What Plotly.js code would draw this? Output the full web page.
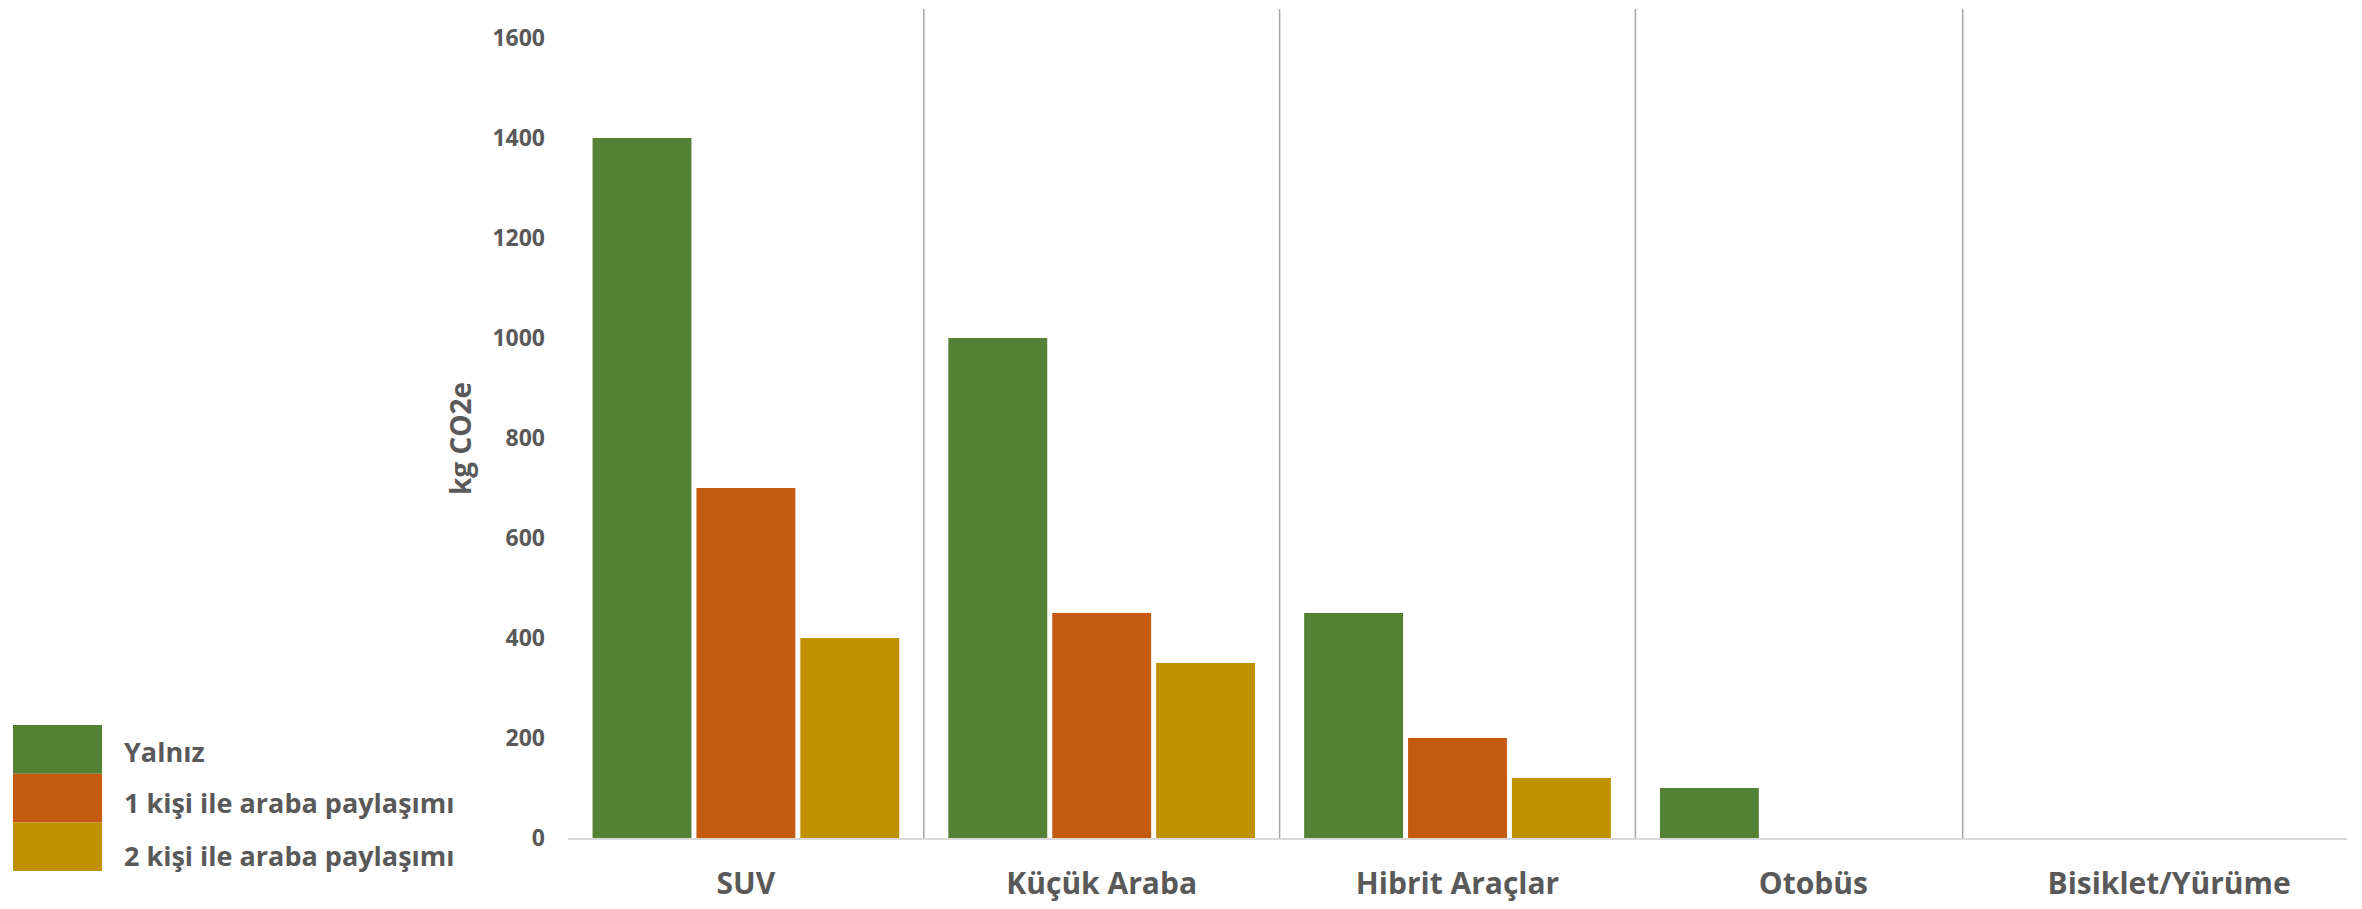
<!DOCTYPE html>
<html>
<head>
<meta charset="utf-8">
<script src="https://cdn.plot.ly/plotly-3.0.1.min.js"></script>
<style>
  html, body { margin: 0; padding: 0; background: #ffffff; }
  #chart { width: 2362px; height: 909px; }
</style>
</head>
<body>
<div id="chart"></div>
<script>
// Transport modes on the category axis
const categories = ['SUV', 'Küçük Araba', 'Hibrit Araçlar', 'Otobüs', 'Bisiklet/Yürüme'];

// Series names
const seriesNames = ['Yalnız', '1 kişi ile araba paylaşımı', '2 kişi ile araba paylaşımı'];

// Emissions per mode (kg CO2e)
const alone = [1400, 1000, 450, 100, 0];
const sharedWithOne = [700, 450, 200, 0, 0];
const sharedWithTwo = [400, 350, 120, 0, 0];

// Y-axis ticks
const yTickValues = [0, 200, 400, 600, 800, 1000, 1200, 1400, 1600];
const yTickLabels = ['0', '200', '400', '600', '800', '1000', '1200', '1400', '1600'];

const yTitle = 'kg CO2e';

const seriesValues = [alone, sharedWithOne, sharedWithTwo];
const seriesColors = ['#548235', '#c55a11', '#bf9000'];

const W = 2362, H = 909;
const margin = { l: 568, r: 15, t: 9, b: 71 };
const plotW = W - margin.l - margin.r;
const plotH = H - margin.t - margin.b;
// pixel -> paper helpers for the hand-built legend and axis title
const px = x => (x - margin.l) / plotW;
const py = y => (H - margin.b - y) / plotH;

const textColor = '#595959';
const font = 'Open Sans, sans-serif';

const traces = seriesValues.map((vals, i) => ({
  type: 'bar',
  name: seriesNames[i],
  x: categories,
  y: vals,
  marker: { color: seriesColors[i], line: { width: 0 } },
  showlegend: false,
  hoverinfo: 'x+y+name'
}));

// vertical separators between the category groups
const separatorX = [0.5, 1.5, 2.5, 3.42];
const shapes = separatorX.map(x => ({
  type: 'line', xref: 'x', yref: 'paper',
  x0: x, x1: x, y0: 0, y1: 1,
  line: { color: '#a6a6a6', width: 1.5 }
}));

// legend: stacked colour blocks with labels at the lower left
const swatchTop = 725, swatchH = 48.7;
const swatchLeft = 13, swatchRight = 102;
const labelCenters = [751, 802, 855];
const annotations = [];
seriesNames.forEach((name, i) => {
  shapes.push({
    type: 'rect', xref: 'paper', yref: 'paper',
    x0: px(swatchLeft), x1: px(swatchRight),
    y0: py(swatchTop + (i + 1) * swatchH), y1: py(swatchTop + i * swatchH),
    fillcolor: seriesColors[i], line: { width: 0 }
  });
  annotations.push({
    xref: 'paper', yref: 'paper',
    x: px(122), y: py(labelCenters[i]),
    xanchor: 'left', yanchor: 'middle',
    text: '<b>' + name + '</b>', showarrow: false,
    font: { family: font, size: 27, color: textColor }
  });
});

// rotated y-axis title
annotations.push({
  xref: 'paper', yref: 'paper',
  x: px(460), y: py(439),
  xanchor: 'center', yanchor: 'middle',
  textangle: -90,
  text: '<b>' + yTitle + '</b>', showarrow: false,
  font: { family: font, size: 28, color: textColor }
});

const layout = {
  width: W, height: H,
  margin: margin,
  paper_bgcolor: '#ffffff',
  plot_bgcolor: '#ffffff',
  barmode: 'group',
  bargap: 0.124,
  bargroupgap: 0.048,
  font: { family: font, color: textColor },
  xaxis: {
    type: 'category',
    showgrid: false,
    showline: true,
    linecolor: '#d9d9d9',
    linewidth: 2,
    ticks: '',
    ticklabelstandoff: 18,
    tickfont: { family: font, size: 30, color: textColor, weight: 'bold' },
    zeroline: false
  },
  yaxis: {
    range: [0, 1658],
    tickvals: yTickValues,
    ticktext: yTickLabels,
    showgrid: false,
    zeroline: false,
    showline: false,
    ticks: '',
    ticklabelstandoff: 22,
    tickfont: { family: font, size: 23, color: textColor, weight: 'bold' }
  },
  shapes: shapes,
  annotations: annotations
};

Plotly.newPlot('chart', traces, layout, { displayModeBar: false, staticPlot: true });
</script>
</body>
</html>
